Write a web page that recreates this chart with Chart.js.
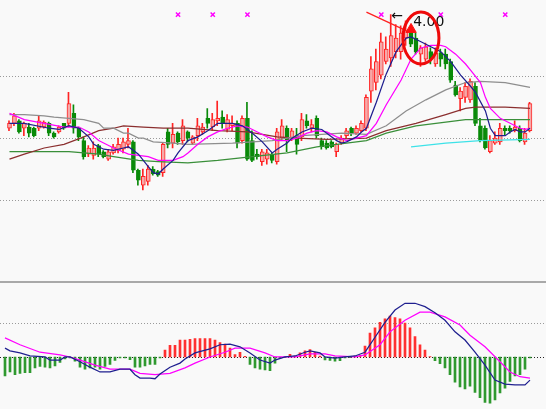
<!DOCTYPE html>
<html>
<head>
<meta charset="utf-8">
<script src="https://cdn.jsdelivr.net/npm/chart.js@4.4.1/dist/chart.umd.min.js"></script>
<style>
  body { margin: 0; background: #f9f9f9; }
  #wrap { position: relative; width: 546px; height: 409px; overflow: hidden; background: #f9f9f9; }
  #price { position: absolute; left: 0; top: 0; }
  #sep { position: absolute; left: 0; top: 281px; width: 546px; height: 2px; background: #a9a9a9; }
  #macd { position: absolute; left: 0; top: 283px; }
</style>
</head>
<body>
<div id="wrap">
  <canvas id="price" width="546" height="281"></canvas>
  <div id="sep"></div>
  <canvas id="macd" width="546" height="126"></canvas>
</div>
<script>
// daily candles
const opens = [3.08,3.12,3.14,3.08,3.09,3.08,3.08,3.09,3.12,3.04,3.05,3.12,3.12,3.20,3.08,2.98,2.87,2.86,2.94,2.89,
  2.83,2.88,2.90,2.91,2.95,2.97,2.74,2.62,2.65,2.75,2.73,2.72,3.05,2.96,3.04,2.98,3.05,2.96,3.02,3.05,
  3.16,3.09,3.14,3.17,3.07,3.10,3.12,2.98,3.16,2.98,2.87,2.81,2.83,2.87,2.81,3.00,3.08,3.00,3.02,3.01,
  3.14,3.08,3.16,2.98,2.96,2.97,2.89,2.96,3.02,3.08,3.04,3.06,3.08,3.38,3.45,3.51,3.62,3.65,3.70,3.70,
  3.81,3.86,3.81,3.68,3.64,3.70,3.60,3.69,3.68,3.62,3.43,3.32,3.33,3.31,3.42,3.10,3.08,2.89,2.96,2.97,
  3.08,3.08,3.06,3.08,2.97,3.06];
const highs = [3.14,3.20,3.15,3.13,3.12,3.09,3.18,3.14,3.13,3.05,3.10,3.12,3.37,3.27,3.09,3.01,2.94,2.97,2.95,2.90,
  2.91,2.95,3.00,3.00,3.08,2.98,2.75,2.75,2.78,2.77,2.74,2.96,3.08,3.12,3.05,3.15,3.06,3.02,3.16,3.12,
  3.24,3.20,3.30,3.22,3.19,3.18,3.14,3.18,3.29,3.06,2.91,2.91,2.91,2.88,3.08,3.15,3.10,3.08,3.08,3.20,
  3.19,3.15,3.18,3.00,2.98,2.98,2.96,3.02,3.08,3.09,3.10,3.14,3.35,3.66,3.72,3.85,3.82,4.00,3.92,3.91,
  3.95,3.90,3.85,3.75,3.77,3.73,3.73,3.72,3.72,3.64,3.46,3.41,3.45,3.48,3.45,3.16,3.10,3.02,3.05,3.12,
  3.10,3.10,3.14,3.10,3.08,3.29];
const lows = [3.06,3.10,3.04,3.02,3.01,3.01,3.06,3.08,3.02,3.00,3.04,3.07,3.09,3.04,2.98,2.83,2.85,2.83,2.85,2.84,
  2.82,2.87,2.88,2.88,2.92,2.72,2.62,2.58,2.62,2.70,2.69,2.69,2.92,2.92,2.95,2.95,2.97,2.95,2.98,3.03,
  3.08,3.06,3.10,3.08,3.05,3.06,2.92,2.96,2.82,2.81,2.83,2.78,2.79,2.80,2.79,2.98,2.89,2.98,2.87,2.98,
  3.08,3.05,3.00,2.91,2.91,2.92,2.85,2.95,3.00,3.02,3.03,3.05,3.06,3.29,3.39,3.48,3.60,3.58,3.65,3.64,
  3.75,3.74,3.68,3.58,3.62,3.60,3.58,3.58,3.56,3.45,3.34,3.22,3.29,3.29,3.10,2.97,2.91,2.88,2.95,2.95,
  3.02,3.04,3.05,2.97,2.95,3.05];
const closes = [3.12,3.18,3.05,3.12,3.04,3.02,3.14,3.13,3.04,3.01,3.09,3.08,3.28,3.08,3.01,2.85,2.92,2.92,2.87,2.85,
  2.89,2.93,2.95,2.97,2.98,2.74,2.66,2.69,2.75,2.71,2.70,2.95,2.95,3.03,2.97,3.10,3.00,3.01,3.10,3.09,
  3.12,3.15,3.16,3.12,3.15,3.12,2.96,3.16,2.83,2.82,2.85,2.89,2.88,2.82,3.05,3.10,2.98,3.06,2.95,3.15,
  3.10,3.11,3.02,2.93,2.92,2.93,2.95,3.00,3.06,3.04,3.08,3.12,3.33,3.56,3.62,3.78,3.72,3.83,3.81,3.85,
  3.87,3.76,3.70,3.73,3.74,3.64,3.69,3.64,3.60,3.47,3.35,3.38,3.42,3.46,3.12,2.98,2.92,2.98,3.00,3.08,
  3.06,3.06,3.09,2.98,3.04,3.28];

// moving averages, [candle index, value] read at intervals
const ma5 = [[0,3.12],[3,3.12],[8,3.08],[10,3.07],[12,3.10],[14,3.08],[16,3.01],[17,2.95],[19,2.91],[21,2.90],
  [23,2.92],[24,2.93],[26,2.87],[28,2.77],[29,2.72],[30,2.71],[31,2.75],[33,2.82],[34,2.88],[36,2.98],
  [38,3.01],[40,3.06],[42,3.12],[43,3.12],[45,3.12],[47,3.10],[49,3.04],[51,2.97],[53,2.88],[54,2.91],
  [56,2.96],[57,3.00],[59,3.05],[61,3.08],[63,3.07],[64,3.04],[66,2.98],[67,2.96],[68,2.97],[70,3.01],
  [71,3.05],[72,3.08],[74,3.29],[76,3.52],[78,3.70],[80,3.81],[81,3.82],[83,3.78],[85,3.74],[87,3.70],
  [89,3.62],[91,3.51],[93,3.42],[94,3.37],[96,3.22],[97,3.08],[98,3.02],[100,3.02],[101,3.05],[102,3.07],
  [103,3.05],[104,3.05],[105,3.08]];
const ma10 = [[0,3.20],[3,3.15],[7,3.12],[11,3.09],[14,3.09],[16,3.05],[18,2.98],[21,2.92],[24,2.87],[28,2.85],
  [30,2.82],[33,2.82],[35,2.85],[36,2.88],[38,2.95],[40,3.01],[42,3.05],[44,3.08],[46,3.10],[48,3.09],
  [50,3.05],[52,3.01],[54,2.98],[56,2.98],[58,3.00],[60,3.04],[62,3.06],[64,3.05],[66,3.01],[68,2.98],
  [70,3.00],[72,3.02],[74,3.12],[76,3.27],[79,3.47],[81,3.64],[83,3.73],[85,3.75],[87,3.75],[88,3.74],
  [90,3.68],[92,3.60],[93,3.55],[95,3.45],[96,3.33],[97,3.24],[99,3.16],[101,3.12],[103,3.08],[104,3.07],
  [105,3.08]];
const ma30 = [[0,3.19],[3,3.19],[7,3.18],[9,3.17],[12,3.16],[15,3.15],[16,3.14],[18,3.12],[19,3.08],[21,3.08],
  [23,3.04],[24,3.04],[26,3.00],[27,3.00],[29,2.97],[33,2.96],[36,2.95],[45,2.96],[53,2.98],[59,3.02],
  [67,3.04],[72,3.03],[76,3.10],[80,3.22],[84,3.31],[88,3.39],[92,3.45],[95,3.46],[100,3.45],[105,3.41]];
const ma60 = [[0,2.83],[3,2.87],[7,2.92],[11,2.95],[15,3.01],[18,3.06],[21,3.08],[23,3.10],[27,3.09],[31,3.08],
  [36,3.08],[42,3.06],[48,3.05],[54,3.01],[58,3.00],[64,2.99],[72,3.00],[76,3.06],[82,3.12],[88,3.19],
  [92,3.24],[94,3.25],[100,3.25],[105,3.24]];
const ma120 = [[0,2.89],[6,2.89],[12,2.89],[18,2.87],[21,2.85],[26,2.82],[30,2.81],[36,2.80],[42,2.82],[49,2.85],
  [56,2.88],[62,2.93],[68,2.96],[72,2.98],[76,3.04],[82,3.10],[88,3.13],[92,3.15],[100,3.15],[105,3.15]];
const ma250 = [[81,2.93],[88,2.96],[95,2.98],[105,2.99]];
const trendLine = [[72,4.02],[80,3.87]];
const markerIdx = [34, 41, 48, 75, 87, 100];
const markerLevel = 4.00;
const peakIdx = 77;
const peakPrice = 4.00;
const priceGrid = [3.5, 3.0, 2.5];

// MACD panel
const macdHist = [-0.028,-0.022,-0.026,-0.024,-0.023,-0.023,-0.016,-0.014,-0.015,-0.016,
  -0.013,-0.008,-0.003,-0.0015,-0.006,-0.015,-0.018,-0.016,-0.015,-0.018,
  -0.014,-0.011,-0.005,-0.0015,-0.0015,-0.004,-0.015,-0.015,-0.013,-0.011,
  -0.011,-0.0015,0.010,0.017,0.017,0.025,0.025,0.026,0.027,0.027,
  0.027,0.027,0.025,0.021,0.019,0.013,0.0035,0.007,0.001,-0.011,
  -0.016,-0.018,-0.019,-0.020,-0.009,-0.002,-0.001,0.004,0.0015,0.006,
  0.009,0.011,0.007,0.0015,-0.0045,-0.005,-0.006,-0.0055,-0.0015,-0.001,
  0.0015,0.002,0.016,0.035,0.043,0.051,0.056,0.060,0.058,0.056,
  0.050,0.043,0.030,0.018,0.010,0.0005,-0.0055,-0.010,-0.016,-0.026,
  -0.037,-0.044,-0.047,-0.043,-0.052,-0.060,-0.067,-0.068,-0.063,-0.053,
  -0.046,-0.036,-0.028,-0.026,-0.018,-0.0015];
const dif = [[0,0.013],[1,0.009],[3,0.006],[5,0.0015],[8,0],[9,-0.0045],[11,-0.0045],[12,0],[13,0],[15,-0.007],
  [17,-0.015],[19,-0.022],[21,-0.022],[23,-0.018],[25,-0.018],[26,-0.026],[27,-0.031],[29,-0.031],[30,-0.032],[31,-0.025],
  [33,-0.015],[35,-0.009],[36,-0.003],[38,0.006],[41,0.012],[43,0.018],[45,0.019],[47,0.015],[49,0.006],[51,-0.0045],
  [53,-0.009],[54,-0.0045],[56,0],[58,0.0015],[60,0.007],[61,0.009],[63,0.006],[64,0],[66,-0.0015],[68,0],
  [70,0.0015],[72,0.007],[74,0.029],[76,0.051],[78,0.069],[80,0.079],[82,0.079],[84,0.074],[86,0.065],[88,0.054],
  [90,0.037],[92,0.025],[94,0.007],[96,-0.012],[98,-0.034],[100,-0.040],[102,-0.041],[104,-0.041],[105,-0.034]];
const dea = [[0,0.028],[3,0.018],[7,0.007],[11,0.003],[13,0],[15,-0.0045],[18,-0.012],[21,-0.018],[25,-0.018],[27,-0.024],
  [30,-0.026],[33,-0.024],[36,-0.016],[38,-0.009],[41,0],[44,0.007],[46,0.013],[49,0.013],[52,0.006],[54,0],
  [58,0],[61,0.0045],[64,0.0045],[66,0.0015],[70,0],[72,0.003],[75,0.018],[77,0.037],[80,0.054],[83,0.066],
  [85,0.066],[88,0.059],[91,0.047],[93,0.032],[96,0.015],[99,-0.007],[101,-0.022],[103,-0.029],[105,-0.031]];
const macdGrid = [0.05];

const N = opens.length;
const labels = opens.map((_, i) => String(i + 1));

function sparse(pairs) {
    const out = new Array(N).fill(null);
    pairs.forEach(([i, v]) => { out[i] = v; });
    return out;
}

const up = closes.map((c, i) => c >= opens[i]);
const RED = '#ff2424', PINK = '#f6a9a9', GREEN = '#098a09';

function maLine(pairs, color) {
    return { type: 'line', data: sparse(pairs), borderColor: color, borderWidth: 1.25,
        pointRadius: 0, spanGaps: true, tension: 0, order: 0 };
}

// dotted horizontal guides at given values
function guides(levels, colors) {
    return {
        id: 'guides',
        beforeDatasetsDraw(chart) {
            const { ctx, scales } = chart;
            ctx.save();
            ctx.lineWidth = 1;
            ctx.setLineDash([1, 2]);
            levels.forEach((v, k) => {
                const y = Math.round(scales.y.getPixelForValue(v)) + 0.5;
                ctx.strokeStyle = colors[k];
                ctx.beginPath(); ctx.moveTo(0, y); ctx.lineTo(chart.width, y); ctx.stroke();
            });
            ctx.restore();
        }
    };
}

const peakNote = {
    id: 'peakNote',
    afterDatasetsDraw(chart) {
        const { ctx, scales } = chart;
        const x = scales.x.getPixelForValue(peakIdx);
        const y = scales.y.getPixelForValue(peakPrice);
        ctx.save();
        ctx.fillStyle = '#111';
        ctx.font = '14px "DejaVu Sans"';
        ctx.fillText('←', x, y + 5.5);
        ctx.fillText(peakPrice.toFixed(2), x + 22, y + 11);
        // red ring round the top
        ctx.strokeStyle = '#ee0a0a';
        ctx.lineWidth = 3;
        ctx.beginPath();
        ctx.ellipse(scales.x.getPixelForValue(83), scales.y.getPixelForValue(3.81), 18, 26, 0, 0, Math.PI * 2);
        ctx.stroke();
        ctx.restore();
    }
};

new Chart(document.getElementById('price'), {
    type: 'bar',
    data: {
        labels,
        datasets: [
            maLine(ma5, '#1f1f8f'),
            maLine(ma10, '#ff00ff'),
            maLine(ma30, '#8e8e8e'),
            maLine(ma60, '#8b2f2f'),
            maLine(ma120, '#3a8f3a'),
            maLine(ma250, '#3ee2e8'),
            { type: 'line', data: sparse(trendLine), borderColor: '#ff2020', borderWidth: 1.25,
              pointRadius: 0, spanGaps: true, order: 0 },
            { type: 'line', data: sparse(markerIdx.map(i => [i, markerLevel])), showLine: false,
              pointStyle: 'crossRot', pointRadius: 3, borderColor: '#ff00ff', borderWidth: 1.5, order: 0 },
            { type: 'line', data: sparse([[81, 3.88]]), showLine: false, pointStyle: 'triangle',
              pointRadius: 6, backgroundColor: '#ff1010', borderColor: '#ff1010', borderWidth: 1, order: 0 },
            { data: opens.map((o, i) => [o, closes[i]]), grouped: false, barThickness: 4,
              backgroundColor: up.map(u => u ? PINK : GREEN), borderColor: up.map(u => u ? RED : GREEN),
              borderWidth: 1, borderSkipped: false, order: 1 },
            // wicks sit on a linear twin axis shifted half a pixel so they stay crisp
            { data: lows.map((l, i) => ({ x: i, y: [l, highs[i]] })), xAxisID: 'xw', grouped: false, barThickness: 1,
              backgroundColor: up.map(u => u ? RED : GREEN), borderWidth: 0, order: 2 }
        ]
    },
    options: {
        responsive: false,
        animation: false,
        layout: { padding: { left: 2.5, right: 13.5, top: 0, bottom: 0 } },
        plugins: { legend: { display: false }, tooltip: { enabled: false } },
        scales: {
            x: { type: 'category', display: false, offset: true },
            xw: { type: 'linear', display: false, offset: false, grid: { offset: false },
                  min: -0.4, max: N - 0.4 },
            y: { display: false, min: 1.9, max: 4.0615 }
        }
    },
    plugins: [guides(priceGrid, priceGrid.map(() => '#9a9a9a')), peakNote]
});

new Chart(document.getElementById('macd'), {
    type: 'bar',
    data: {
        labels,
        datasets: [
            { type: 'line', data: sparse(dif), borderColor: '#1f1f8f', borderWidth: 1.25, pointRadius: 0, spanGaps: true, order: 0 },
            { type: 'line', data: sparse(dea), borderColor: '#ff00ff', borderWidth: 1.25, pointRadius: 0, spanGaps: true, order: 0 },
            { data: macdHist, barThickness: 2, grouped: false,
              backgroundColor: macdHist.map(v => v >= 0 ? '#ff3030' : '#2f992f'), order: 1 }
        ]
    },
    options: {
        responsive: false,
        animation: false,
        layout: { padding: { left: 2.5, right: 13.5, top: 0, bottom: 0 } },
        plugins: { legend: { display: false }, tooltip: { enabled: false } },
        scales: {
            x: { type: 'category', display: false, offset: true },
            y: { display: false, min: -0.0765, max: 0.1088 }
        }
    },
    plugins: [guides(macdGrid.concat([0]), ['#9a9a9a', '#222'])]
});
</script>
</body>
</html>
